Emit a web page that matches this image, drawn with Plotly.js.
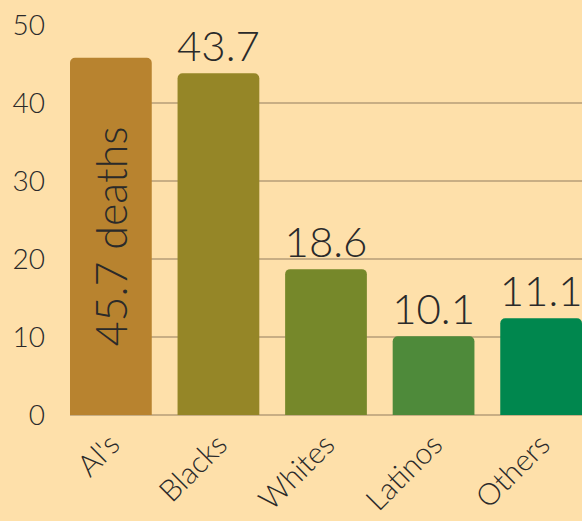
<!DOCTYPE html>
<html>
<head>
<meta charset="utf-8">
<script src="https://cdn.plot.ly/plotly-3.0.1.min.js"></script>
<style>html,body{margin:0;padding:0;background:#FEE0AA;}#chart{width:582px;height:521px;}</style>
</head>
<body>
<div id="chart"></div>
<script>
var categories = ["Al's", "Blacks", "Whites", "Latinos", "Others"];
var values = [45.8, 43.8, 18.7, 10.1, 12.4];
var labels = ["45.7 deaths", "43.7", "18.6", "10.1", "11.1"];
var colors = ["#B8832F", "#958627", "#76882A", "#4E8A3A", "#00874E"];
var yTicks = [0, 10, 20, 30, 40, 50];

var FONT = 'Lato, sans-serif';
var TXT = '#2a2a2a';

var insideTrace = {
  type: 'bar',
  x: categories.slice(0, 1),
  y: values.slice(0, 1),
  text: labels.slice(0, 1),
  textposition: 'inside',
  textangle: -90,
  insidetextanchor: 'middle',
  constraintext: 'none',
  cliponaxis: false,
  insidetextfont: {family: FONT, size: 43, color: TXT, weight: 300},
  textfont: {family: FONT, size: 43, color: TXT, weight: 300},
  marker: {color: colors.slice(0, 1), cornerradius: 5, line: {width: 0}},
  hoverinfo: 'none'
};

var outsideTrace = {
  type: 'bar',
  x: categories.slice(1),
  y: values.slice(1),
  text: labels.slice(1),
  textposition: 'outside',
  textangle: 0,
  constraintext: 'none',
  cliponaxis: false,
  outsidetextfont: {family: FONT, size: 42, color: TXT, weight: 300},
  textfont: {family: FONT, size: 42, color: TXT, weight: 300},
  marker: {color: colors.slice(1), cornerradius: 5, line: {width: 0}},
  hoverinfo: 'none'
};

var layout = {
  width: 582, height: 521,
  margin: {l: 70, r: 0, t: 25, b: 106, pad: 0},
  paper_bgcolor: '#FEE0AA',
  plot_bgcolor: '#FEE0AA',
  barmode: 'overlay',
  bargap: 0.24,
  showlegend: false,
  font: {family: FONT, color: TXT},
  xaxis: {
    categoryorder: 'array',
    categoryarray: categories,
    range: [-0.38, 4.38],
    tickangle: -45,
    tickfont: {family: FONT, size: 30, color: TXT, weight: 300},
    showgrid: false,
    zeroline: false,
    showline: false,
    ticks: '',
    ticklabelstandoff: 5,
    fixedrange: true
  },
  yaxis: {
    range: [0, 50],
    tickvals: yTicks,
    ticktext: yTicks.map(String),
    tickfont: {family: FONT, size: 28, color: TXT, weight: 300},
    showgrid: true,
    gridcolor: '#C8AE84',
    gridwidth: 1.5,
    zeroline: true,
    zerolinecolor: '#C8AE84',
    zerolinewidth: 2,
    showline: false,
    ticks: '',
    ticklabelstandoff: 24,
    fixedrange: true
  }
};

Plotly.newPlot('chart', [insideTrace, outsideTrace], layout, {displayModeBar: false, staticPlot: true});
</script>
</body>
</html>
